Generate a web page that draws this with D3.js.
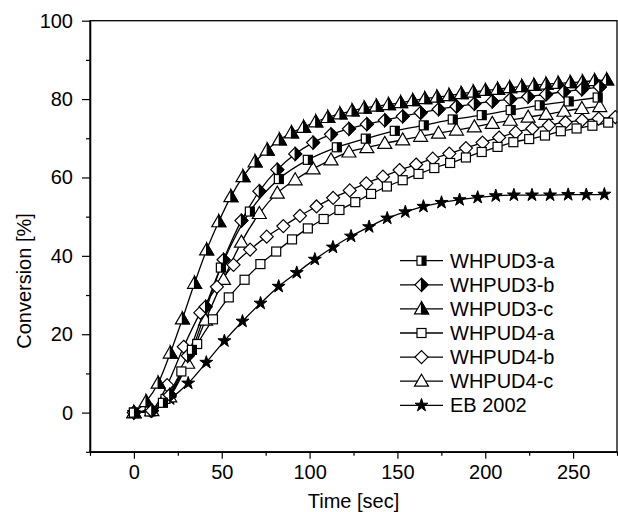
<!DOCTYPE html>
<html><head><meta charset="utf-8">
<script src="https://cdn.jsdelivr.net/npm/d3@7/dist/d3.min.js"></script>
<style>body{margin:0;background:#fff}svg{display:block}text{font-family:Arial,"Liberation Sans",sans-serif;fill:#000}</style>
</head><body><svg id="c" width="618" height="512"></svg>
<script>
// ---- data ----
const seriesNames = ["WHPUD3-a","WHPUD3-b","WHPUD3-c","WHPUD4-a","WHPUD4-b","WHPUD4-c","EB 2002"];
const t3a = [0,16.5,33,49.5,66,82.5,99,115.5,132,148.5,165,181.5,198,214.5,231,247.5,264];
const v3a = [0,2.5,16,37,51.3,59.6,64.5,67.7,69.9,71.9,73.3,74.8,75.9,77.2,78.4,79.4,80.4];
const t3b = [0,10.2,20.4,30.6,40.8,51,61.2,71.4,81.6,91.8,102,112.2,122.4,132.6,142.8,153,163.2,173.4,183.6,193.8,204,214.2,224.4,234.6,244.8,255,265.2];
const v3b = [0,0.5,4.5,14.5,27,39,49,56.5,62,66,68.9,71,72.4,73.6,74.6,75.6,76.5,77.4,78.1,78.8,79.4,80,80.6,81.2,81.9,82.5,83.1];
const t3c = [0,6.9,13.8,20.7,27.6,34.5,41.4,48.3,55.2,62.1,69,75.9,82.8,89.7,96.6,103.5,110.4,117.3,124.2,131.1,138,144.9,151.8,158.7,165.6,172.5,179.4,186.3,193.2,200.1,207,213.9,220.8,227.7,234.6,241.5,248.4,255.3,262.2,269.1];
const v3c = [0,2.8,7.5,15.2,23.9,33,41.5,48.7,55.1,60.2,64,67,69.6,71.4,72.8,74.2,75.3,76.2,77,77.7,78.2,78.6,79.1,79.6,80.1,80.5,80.9,81.4,81.8,82.2,82.5,82.9,83.2,83.5,83.8,84,84.2,84.4,84.7,84.9];
const t4a = [0,9,18,27,36,45,54,63,72,81,90,99,108,117,126,135,144,153,162,171,180,189,198,207,216,225,234,243,252,261,270];
const v4a = [0,0.3,3.5,10.5,17.5,23.8,29.4,33.9,37.9,41.1,44.2,47,49.4,51.7,53.7,55.8,57.7,59.3,60.9,62.4,63.7,65.1,66.5,67.8,69,69.8,70.7,71.8,72.5,73.2,74];
const t4b = [0,9.45,18.9,28.35,37.8,47.25,56.7,66.15,75.6,85.05,94.5,103.95,113.4,122.85,132.3,141.75,151.2,160.65,170.1,179.55,189,198.45,207.9,217.35,226.8,236.25,245.7,255.15,264.6,274.05];
const v4b = [0,0.5,7,16.8,25.5,32.1,37.7,41.6,44.9,47.6,50.2,52.6,54.8,56.7,58.5,60.2,61.9,63.3,64.8,66.1,67.5,68.9,70.2,71.5,72.5,73.3,74.1,74.6,75,75.4];
const t4c = [0,10.2,20.4,30.6,40.8,51,61.2,71.4,81.6,91.8,102,112.2,122.4,132.6,142.8,153,163.2,173.4,183.6,193.8,204,214.2,224.4,234.6,244.8,255,265.2];
const v4c = [0,0.5,4,12.6,23.6,34,43.5,50.8,56,59.4,62.2,64.5,66.5,67.6,68.7,69.6,70.5,71.3,72.1,72.9,73.8,74.6,75.4,76.1,76.9,77.6,78.1];
const tEB = [0,10.3,20.6,30.9,41.2,51.5,61.8,72.1,82.4,92.7,103,113.3,123.6,133.9,144.2,154.5,164.8,175.1,185.4,195.7,206,216.3,226.6,236.9,247.2,257.5,267.8];
const vEB = [0,0.5,3.5,7.5,12.8,18.3,23.3,27.9,32.2,35.7,39.1,42.2,45,47.4,49.6,51.2,52.6,53.6,54.3,54.9,55.3,55.5,55.5,55.5,55.6,55.6,55.7];
const xMajorTicks = [0,50,100,150,200,250];
const xMinorTicks = [-25,25,75,125,175,225,275];
const yMajorTicks = [0,20,40,60,80,100];
const yMinorTicks = [-10,10,30,50,70,90];
const xTitle = "Time [sec]";
const yTitle = "Conversion [%]";

// ---- layout ----
const svg = d3.select("#c");
const L = 90, R = 617, T = 20.7, B = 451.8;
const x = d3.scaleLinear().domain([-25,275]).range([L,R]);
const y = d3.scaleLinear().domain([-10,100]).range([B,T]);
const FS = 20;

const series = [
  {name:seriesNames[0], t:t3a, v:v3a, shape:"square", half:true},
  {name:seriesNames[1], t:t3b, v:v3b, shape:"diamond", half:true},
  {name:seriesNames[2], t:t3c, v:v3c, shape:"triangle", half:true},
  {name:seriesNames[3], t:t4a, v:v4a, shape:"square", half:false},
  {name:seriesNames[4], t:t4b, v:v4b, shape:"diamond", half:false},
  {name:seriesNames[5], t:t4c, v:v4c, shape:"triangle", half:false},
  {name:seriesNames[6], t:tEB, v:vEB, shape:"star", half:false}
];

svg.append("defs").append("clipPath").attr("id","clip")
  .append("rect").attr("x",L).attr("y",T).attr("width",R-L).attr("height",B-T);

function drawMarker(g, shape, half){
  const sw = 1.2;
  if(shape==="square"){
    const s=9;
    g.append("rect").attr("x",-s/2).attr("y",-s/2).attr("width",s).attr("height",s)
      .attr("fill","#fff").attr("stroke","#000").attr("stroke-width",sw);
    if(half) g.append("rect").attr("x",0).attr("y",-s/2).attr("width",s/2).attr("height",s).attr("fill","#000");
  } else if(shape==="diamond"){
    const r=6.5;
    g.append("path").attr("d",`M0,${-r}L${r},0L0,${r}L${-r},0Z`)
      .attr("fill","#fff").attr("stroke","#000").attr("stroke-width",sw);
    if(half) g.append("path").attr("d",`M0,${-r}L${r},0L0,${r}Z`).attr("fill","#000").attr("stroke","#000").attr("stroke-width",sw);
  } else if(shape==="triangle"){
    const top=-7, bot=5, w=7;
    g.append("path").attr("d",`M0,${top}L${w},${bot}L${-w},${bot}Z`)
      .attr("fill","#fff").attr("stroke","#000").attr("stroke-width",sw);
    if(half) g.append("path").attr("d",`M0,${top}L${w},${bot}L0,${bot}Z`).attr("fill","#000").attr("stroke","#000").attr("stroke-width",sw);
  } else if(shape==="star"){
    g.append("path").attr("d",d3.symbol(d3.symbolStar,52)()).attr("fill","#000").attr("stroke","#000").attr("stroke-width",1);
  }
}

// ---- series ----
const plot = svg.append("g").attr("clip-path","url(#clip)");
const line = d3.line().x(d=>x(d[0])).y(d=>y(d[1])).curve(d3.curveMonotoneX);
series.slice().reverse().forEach(s=>{
  const pts = s.t.map((tt,i)=>[tt,s.v[i]]);
  plot.append("path").attr("d",line(pts)).attr("fill","none").attr("stroke","#000").attr("stroke-width",1.3);
});
series.slice().reverse().forEach(s=>{
  const pts = s.t.map((tt,i)=>[tt,s.v[i]]);
  pts.forEach(p=>{
    const g = plot.append("g").attr("transform",`translate(${x(p[0])},${y(p[1])})`);
    drawMarker(g, s.shape, s.half);
  });
});

// ---- frame & axes ----
svg.append("rect").attr("x",L).attr("y",T).attr("width",R-L).attr("height",B-T)
  .attr("fill","none").attr("stroke","#000").attr("stroke-width",1.3);

svg.append("g").attr("transform",`translate(0,${B})`)
  .call(d3.axisBottom(x).tickValues(xMajorTicks).tickSize(7).tickSizeOuter(0).tickPadding(6));
svg.append("g").attr("transform",`translate(0,${B})`)
  .call(d3.axisBottom(x).tickValues(xMinorTicks).tickSize(4).tickSizeOuter(0).tickFormat(""));
svg.append("g").attr("transform",`translate(${L},0)`)
  .call(d3.axisLeft(y).tickValues(yMajorTicks).tickSize(8).tickSizeOuter(0).tickPadding(9));
svg.append("g").attr("transform",`translate(${L},0)`)
  .call(d3.axisLeft(y).tickValues(yMinorTicks).tickSize(4).tickSizeOuter(0).tickFormat(""));
svg.selectAll(".domain").attr("stroke","#000").attr("stroke-width",1.3);
svg.selectAll(".tick line").attr("stroke","#000").attr("stroke-width",1.2);
svg.selectAll(".tick text").attr("font-size",FS).attr("font-family","Arial, 'Liberation Sans', sans-serif").attr("fill","#000");

svg.append("text").attr("x",(L+R)/2).attr("y",508).attr("text-anchor","middle").attr("font-size",FS).text(xTitle);
svg.append("text").attr("transform","translate(31,281) rotate(-90)").attr("text-anchor","middle").attr("font-size",FS).text(yTitle);

// ---- legend ----
const leg = svg.append("g");
series.forEach((s,i)=>{
  const yy = 260.7 + i*24.1;
  const g = leg.append("g").attr("transform",`translate(0,${yy})`);
  g.append("line").attr("x1",400).attr("x2",443).attr("y1",0).attr("y2",0).attr("stroke","#000").attr("stroke-width",1.3);
  const m = g.append("g").attr("transform","translate(421.5,0)");
  drawMarker(m, s.shape, s.half);
  g.append("text").attr("x",450).attr("y",0).attr("dy","0.35em").attr("font-size",FS).text(s.name);
});
</script></body></html>
